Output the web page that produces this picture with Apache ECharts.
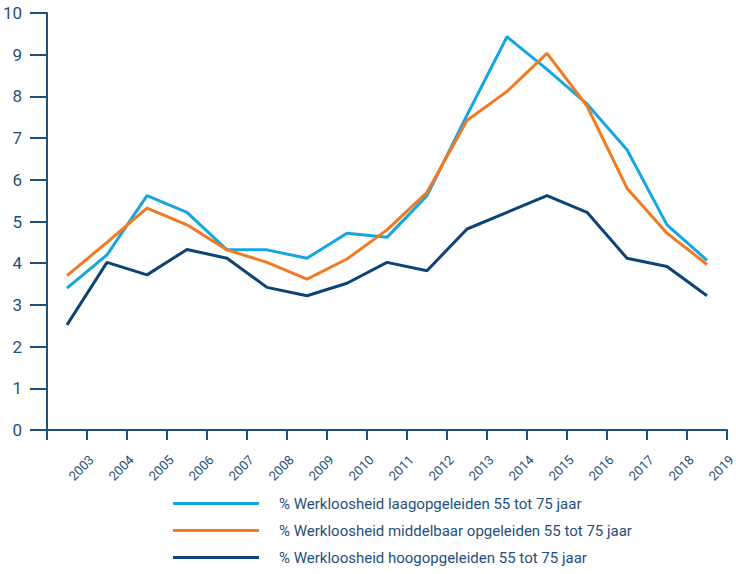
<!DOCTYPE html>
<html>
<head>
<meta charset="utf-8">
<script src="https://cdn.jsdelivr.net/npm/echarts@6/dist/echarts.min.js"></script>
<style>
  html, body { margin: 0; padding: 0; background: #fff; }
  #chart { width: 736px; height: 574px; }
</style>
</head>
<body>
<div id="chart"></div>
<script>
var years = ['2003', '2004', '2005', '2006', '2007', '2008', '2009', '2010', '2011',
             '2012', '2013', '2014', '2015', '2016', '2017', '2018', '2019'];
var tickLabels = [''].concat(years);
var laag = [3.4, 4.2, 5.62, 5.22, 4.32, 4.32, 4.12, 4.72, 4.62, 5.62, 7.55, 9.43, 8.65, 7.82, 6.72, 4.92, 4.07];
var middelbaar = [3.7, 4.5, 5.32, 4.92, 4.32, 4.02, 3.62, 4.1, 4.8, 5.7, 7.42, 8.12, 9.03, 7.77, 5.8, 4.72, 3.97];
var hoog = [2.52, 4.02, 3.72, 4.33, 4.12, 3.42, 3.22, 3.52, 4.02, 3.82, 4.82, 5.22, 5.62, 5.22, 4.12, 3.92, 3.22];
var names = [
  '% Werkloosheid laagopgeleiden 55 tot 75 jaar',
  '% Werkloosheid middelbaar opgeleiden 55 tot 75 jaar',
  '% Werkloosheid hoogopgeleiden 55 tot 75 jaar'
];

(function() {
  var axisColor = '#1f4f7d';
  var font = "Roboto, sans-serif";

  var chart = echarts.init(document.getElementById('chart'), null, { renderer: 'svg' });
  chart.setOption({
    animation: false,
    textStyle: { fontFamily: font },
    grid: { left: 47, right: 9, top: 13, bottom: 144, outerBoundsMode: 'none', containLabel: false },
    legend: {
      orient: 'vertical',
      left: 168,
      top: 491,
      itemWidth: 86,
      itemHeight: 3,
      itemGap: 12,
      icon: 'rect',
      data: names,
      textStyle: { color: axisColor, fontSize: 15, fontFamily: font, padding: [0, 0, 0, 15] }
    },
    xAxis: [
      {
        type: 'category',
        data: years,
        boundaryGap: true,
        axisLine: { lineStyle: { color: axisColor, width: 2 } },
        axisTick: { show: false },
        axisLabel: { show: false }
      },
      {
        type: 'category',
        data: tickLabels,
        boundaryGap: false,
        position: 'bottom',
        axisLine: { show: false },
        axisTick: { show: true, length: 10, lineStyle: { color: axisColor, width: 2 } },
        axisLabel: {
          color: axisColor, fontSize: 13, fontFamily: font, rotate: 45,
          margin: 23, verticalAlign: 'top', interval: 0
        }
      }
    ],
    yAxis: {
      type: 'value',
      min: 0,
      max: 10,
      interval: 1,
      axisLine: { show: true, lineStyle: { color: axisColor, width: 2 } },
      axisTick: { show: true, length: 17, lineStyle: { color: axisColor, width: 2 } },
      axisLabel: { color: axisColor, fontSize: 17, fontFamily: font, margin: 25 },
      splitLine: { show: false }
    },
    series: [
      {
        name: names[0], type: 'line', xAxisIndex: 0, data: laag, symbol: 'none',
        lineStyle: { color: '#15a6df', width: 3 }, itemStyle: { color: '#15a6df' }
      },
      {
        name: names[1], type: 'line', xAxisIndex: 0, data: middelbaar, symbol: 'none',
        lineStyle: { color: '#f27a22', width: 3 }, itemStyle: { color: '#f27a22' }
      },
      {
        name: names[2], type: 'line', xAxisIndex: 0, data: hoog, symbol: 'none',
        lineStyle: { color: '#0d4375', width: 3 }, itemStyle: { color: '#0d4375' }
      }
    ]
  });
  window.addEventListener('resize', function() { chart.resize(); });
})();
</script>
</body>
</html>
